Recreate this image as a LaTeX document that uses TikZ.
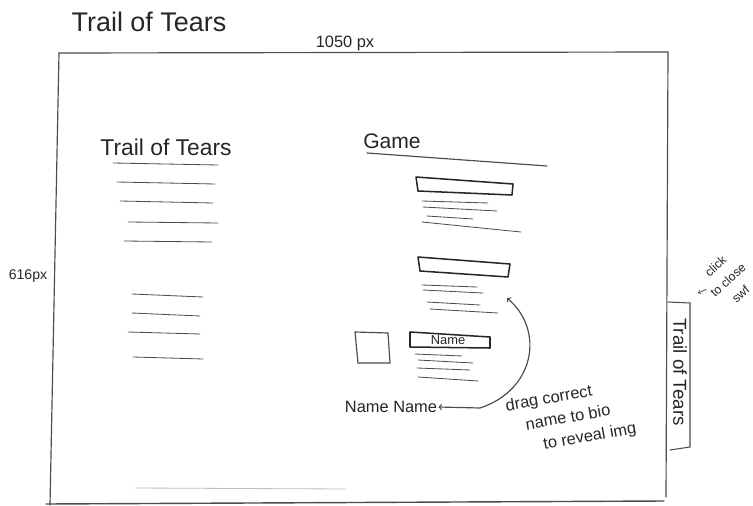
\documentclass[tikz,border=0pt]{standalone}
\usepackage{fontspec}
\setmainfont{Liberation Sans}
\begin{document}
\begin{tikzpicture}[x=0.03cm, y=-0.03cm,
        sketch/.style={draw=black!70, line width=0.7pt, line cap=round},
        heavy/.style={draw=black!85, line width=1.3pt, line join=round},
        hand/.style={text=black!85, inner sep=1pt}]
        \useasboundingbox (0,0) rectangle (753,506);

        % Page title and sizes
        \node[hand, font=\fontsize{23}{26}\selectfont] (title) at (149,22) {Trail of Tears};
        \node[hand, font=\fontsize{14}{16}\selectfont] (wlabel) at (345,43) {1050 px};
        \node[hand, font=\fontsize{12}{14}\selectfont] (hlabel) at (28,276) {616px};

        % Frame
        \draw[sketch, line width=1pt] (59,53) -- (668,52) -- (666,497);
        \draw[sketch, line width=1pt] (59,53) -- (50,505);
        \draw[sketch, line width=1.2pt] (46,504) -- (664,501);
        \draw[sketch, draw=black!25] (135,488) -- (346,489);

        % Left column
        \node[hand, font=\fontsize{19.5}{22}\selectfont] (story) at (166,147) {Trail of Tears};
        \draw[sketch] (113,163) -- (218,165);
        \draw[sketch] (117,182) -- (215,184);
        \draw[sketch] (120,201) -- (213,203);
        \draw[sketch] (128,222) -- (218,223);
        \draw[sketch] (124,241) -- (212,242);
        \draw[sketch] (132,294) -- (203,297);
        \draw[sketch] (132,313) -- (200,316);
        \draw[sketch] (128,332) -- (200,334);
        \draw[sketch] (133,357) -- (203,359);

        % Game column
        \node[hand, font=\fontsize{18}{21}\selectfont] (game) at (392,141) {Game};
        \draw[sketch, line width=1pt] (367,153) -- (547,166);
        \draw[heavy] (416,177) -- (513,184) -- (512,195) -- (418,191) -- cycle;
        \draw[sketch] (422,201) -- (488,203);
        \draw[sketch] (423,207) -- (497,211);
        \draw[sketch] (427,216) -- (473,219);
        \draw[sketch] (422,222) -- (521,232);
        \draw[heavy] (418,257) -- (510,264) -- (508,277) -- (420,271) -- cycle;
        \draw[sketch] (422,285) -- (477,287);
        \draw[sketch] (423,290) -- (483,293);
        \draw[sketch] (427,302) -- (480,305);
        \draw[sketch] (430,309) -- (498,313);
        \draw[sketch, line width=1pt] (355,332) -- (388,333) -- (390,363) -- (358,363) -- cycle;
        \draw[heavy] (410,332) -- (490,337) -- (490,348) -- (410,347) -- cycle;
        \node[hand, font=\fontsize{11}{13}\selectfont] (namebox) at (448,340) {Name};
        \draw[sketch] (415,354) -- (462,356);
        \draw[sketch] (418,360) -- (473,363);
        \draw[sketch] (417,368) -- (470,370);
        \draw[sketch] (418,377) -- (478,381);

        % Drag hint
        \node[hand, font=\fontsize{14}{16}\selectfont] (names) at (391,407) {Name Name};
        \coordinate (bend) at (480,408);
        \coordinate (biotip) at (507,298);
        \draw[sketch, line width=1pt, <->] (names.east) -- (bend) .. controls (535,390) and (545,330) .. (biotip);
        \node[hand, rotate=10, align=left, font=\fontsize{14}{19}\selectfont] (draghint) at (571,418)
            {drag correct\\\hspace*{14pt}name to bio\\\hspace*{26pt}to reveal img};

        % Side tab
        \draw[sketch, line width=0.9pt] (668,302) -- (690,303) -- (690,447) -- (670,450);
        \node[hand, rotate=-90, font=\fontsize{16}{18}\selectfont] (tab) at (680,372) {Trail of Tears};
        \node[hand, rotate=42, align=center, font=\fontsize{10.5}{16}\selectfont] (closehint) at (728,280) {click\\to close\\swf};
        \coordinate (closetip) at (698,293);
        \draw[sketch, ->] (closehint) -- (closetip);
    \end{tikzpicture}
\end{document}
